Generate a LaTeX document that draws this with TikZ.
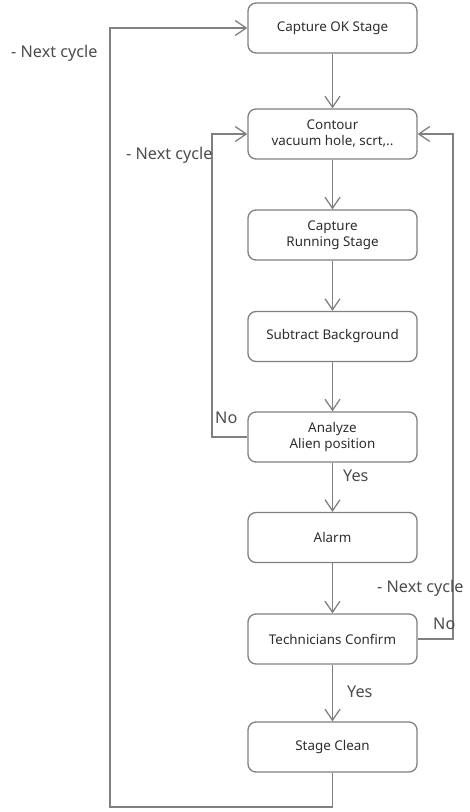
\documentclass[tikz,border=0pt]{standalone}
\usepackage{fontspec}
\setmainfont{Noto Sans}
\usetikzlibrary{arrows.meta}
\definecolor{linegray}{RGB}{128,128,128}
\definecolor{textgray}{RGB}{45,45,45}
\tikzset{
  x=1pt, y=-1pt,
  stepbox/.style={draw=linegray, line width=1.3pt, rounded corners=8pt, minimum width=169pt, minimum height=50pt, align=center, text=textgray, font=\fontsize{13.4}{16}\selectfont, inner sep=0pt},
  conn/.style={draw=linegray, line width=1.3pt, -{Straight Barb[length=11pt,width=15pt,line width=1.3pt]}},
  lbl/.style={text=textgray!85, font=\fontsize{16.2}{18}\selectfont, inner sep=0pt}
}
\begin{document}
\begin{tikzpicture}
\useasboundingbox (0,0) rectangle (469,812);
\node[stepbox] (b1) at (332.5,28) {Capture OK Stage};
\node[stepbox] (b2) at (332.5,134) {Contour\\vacuum hole, scrt,..};
\node[stepbox] (b3) at (332.5,235) {Capture\\Running Stage};
\node[stepbox] (b4) at (332.5,336.5) {Subtract Background};
\node[stepbox] (b5) at (332.5,437) {Analyze\\Alien position};
\node[stepbox] (b6) at (332.5,537.5) {Alarm};
\node[stepbox] (b7) at (332.5,639) {Technicians Confirm};
\node[stepbox] (b8) at (332.5,747) {Stage Clean};

\coordinate (lb) at (110,807);
\coordinate (li) at (212,437);
\coordinate (ri) at (453,639);

\draw[conn] (b1) -- (b2);
\draw[conn] (b2) -- (b3);
\draw[conn] (b3) -- (b4);
\draw[conn] (b4) -- (b5);
\draw[conn] (b5) -- (b6);
\draw[conn] (b6) -- (b7);
\draw[conn] (b7) -- (b8);
\draw[conn] (b8.south) |- (lb) |- (b1.west);
\draw[conn] (b5.west) -- (li) |- (b2.west);
\draw[conn] (b7.east) -- (ri) |- (b2.east);

\node[lbl, anchor=west] (n1) at (11,53) {- Next cycle};
\node[lbl, anchor=west] (n2) at (126,155) {- Next cycle};
\node[lbl, anchor=west] (n3) at (377,588) {- Next cycle};
\node[lbl, anchor=west] (no1) at (215,418) {No};
\node[lbl, anchor=west] (no2) at (433,624) {No};
\node[lbl, anchor=west] (y1) at (343,476) {Yes};
\node[lbl, anchor=west] (y2) at (347,692) {Yes};
\end{tikzpicture}
\end{document}
